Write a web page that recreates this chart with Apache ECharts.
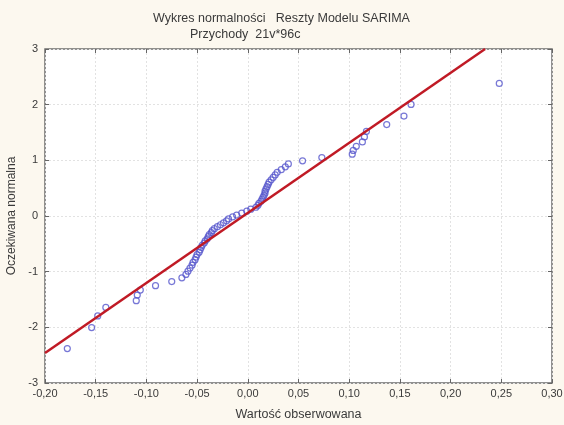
<!DOCTYPE html>
<html>
<head>
<meta charset="utf-8">
<script src="https://cdn.jsdelivr.net/npm/echarts@6/dist/echarts.min.js"></script>
<style>
html,body{margin:0;padding:0;background:#fcf8ef;}
#c{width:564px;height:425px;}
</style>
</head>
<body>
<div id="c"></div>
<script>
var observed = [
  -0.178, -0.154, -0.148, -0.140, -0.110, -0.109, -0.106, -0.091, -0.075, -0.065,
  -0.061, -0.059, -0.057, -0.055, -0.054, -0.052, -0.051, -0.050, -0.048, -0.047,
  -0.046, -0.045, -0.043, -0.042, -0.040, -0.039, -0.038, -0.036, -0.035, -0.033,
  -0.030, -0.027, -0.024, -0.021, -0.019, -0.015, -0.011, -0.006, -0.001, 0.003,
  0.008, 0.010, 0.011, 0.013, 0.014, 0.015, 0.016, 0.017, 0.017, 0.018,
  0.019, 0.020, 0.021, 0.023, 0.025, 0.027, 0.029, 0.033, 0.037, 0.040,
  0.054, 0.073, 0.103, 0.104, 0.107, 0.113, 0.115, 0.117, 0.137, 0.154,
  0.161, 0.248
];
// Expected normal values (y)
var expected = [
  -2.381, -2.005, -1.795, -1.643, -1.522, -1.420, -1.331, -1.251, -1.178, -1.111,
  -1.049, -0.991, -0.936, -0.883, -0.833, -0.785, -0.738, -0.693, -0.650, -0.608,
  -0.567, -0.526, -0.487, -0.448, -0.410, -0.372, -0.336, -0.299, -0.263, -0.227,
  -0.192, -0.157, -0.122, -0.087, -0.052, -0.017, 0.017, 0.052, 0.087, 0.122,
  0.157, 0.192, 0.227, 0.263, 0.299, 0.336, 0.372, 0.410, 0.448, 0.487,
  0.526, 0.567, 0.608, 0.650, 0.693, 0.738, 0.785, 0.833, 0.883, 0.936,
  0.991, 1.049, 1.111, 1.178, 1.251, 1.331, 1.420, 1.522, 1.643, 1.795,
  2.005, 2.381
];
// Reference (normal) line endpoints
var fitX = [-0.20, 0.234];
var fitY = [-2.46, 3.00];

var titleLine1 = 'Wykres normalności   Reszty Modelu SARIMA';
var titleLine2 = 'Przychody  21v*96c';
var xName = 'Wartość obserwowana';
var yName = 'Oczekiwana normalna';

var pts = observed.map(function(v, i){ return [v, expected[i]]; });
var fitPts = fitX.map(function(v, i){ return [v, fitY[i]]; });

var FONT = 'Liberation Sans, Arial, sans-serif';
var TXT = '#3a3a3a';

var chart = echarts.init(document.getElementById('c'), null, {renderer:'canvas'});
var tick = {show:true, inside:true, length:4, lineStyle:{color:'#666'}};
var noLine = {show:false, onZero:false};
chart.setOption({
  backgroundColor:'#fcf8ef',
  animation:false,
  title:[
    {text:titleLine1, left:148, top:7, textStyle:{fontFamily:FONT, fontSize:12.5, fontWeight:'normal', color:TXT}},
    {text:titleLine2, left:185, top:23, textStyle:{fontFamily:FONT, fontSize:12.5, fontWeight:'normal', color:TXT}}
  ],
  grid:{left:45, right:12, top:49, bottom:42, containLabel:false, outerBoundsMode:'none',
    show:true, backgroundColor:'#ffffff', borderColor:'#6e6e6e', borderWidth:1.5},
  xAxis:[{
    type:'value', min:-0.2, max:0.3, interval:0.05,
    name:xName, nameLocation:'middle', nameGap:25,
    nameTextStyle:{fontFamily:FONT, fontSize:12.5, color:TXT},
    axisLine:noLine, axisTick:tick,
    axisLabel:{fontFamily:FONT, fontSize:11, color:TXT, margin:5,
      formatter:function(v){ return v.toFixed(2).replace('.', ','); }},
    splitLine:{show:true, lineStyle:{color:'#e2e2e2', type:[2,2], width:1}}
  },{
    type:'value', min:-0.2, max:0.3, interval:0.05, position:'top',
    axisLine:noLine, axisTick:tick, axisLabel:{show:false}, splitLine:{show:false}
  }],
  yAxis:[{
    type:'value', min:-3, max:3, interval:1,
    name:yName, nameLocation:'middle', nameGap:27,
    nameTextStyle:{fontFamily:FONT, fontSize:12, color:TXT},
    axisLine:noLine, axisTick:tick,
    axisLabel:{fontFamily:FONT, fontSize:11, color:TXT, margin:7},
    splitLine:{show:true, lineStyle:{color:'#e2e2e2', type:[2,2], width:1}}
  },{
    type:'value', min:-3, max:3, interval:1, position:'right',
    axisLine:noLine, axisTick:tick, axisLabel:{show:false}, splitLine:{show:false}
  }],
  series:[{
    type:'scatter', xAxisIndex:0, yAxisIndex:0, data:pts,
    symbol:'circle', symbolSize:6,
    itemStyle:{color:'rgba(255,255,255,0)', borderColor:'#5555cc', borderWidth:1.2}
  },{
    type:'line', xAxisIndex:0, yAxisIndex:0, data:fitPts, symbol:'none',
    lineStyle:{color:'#c01a25', width:2.5}, z:3
  }]
});
</script>
</body>
</html>
